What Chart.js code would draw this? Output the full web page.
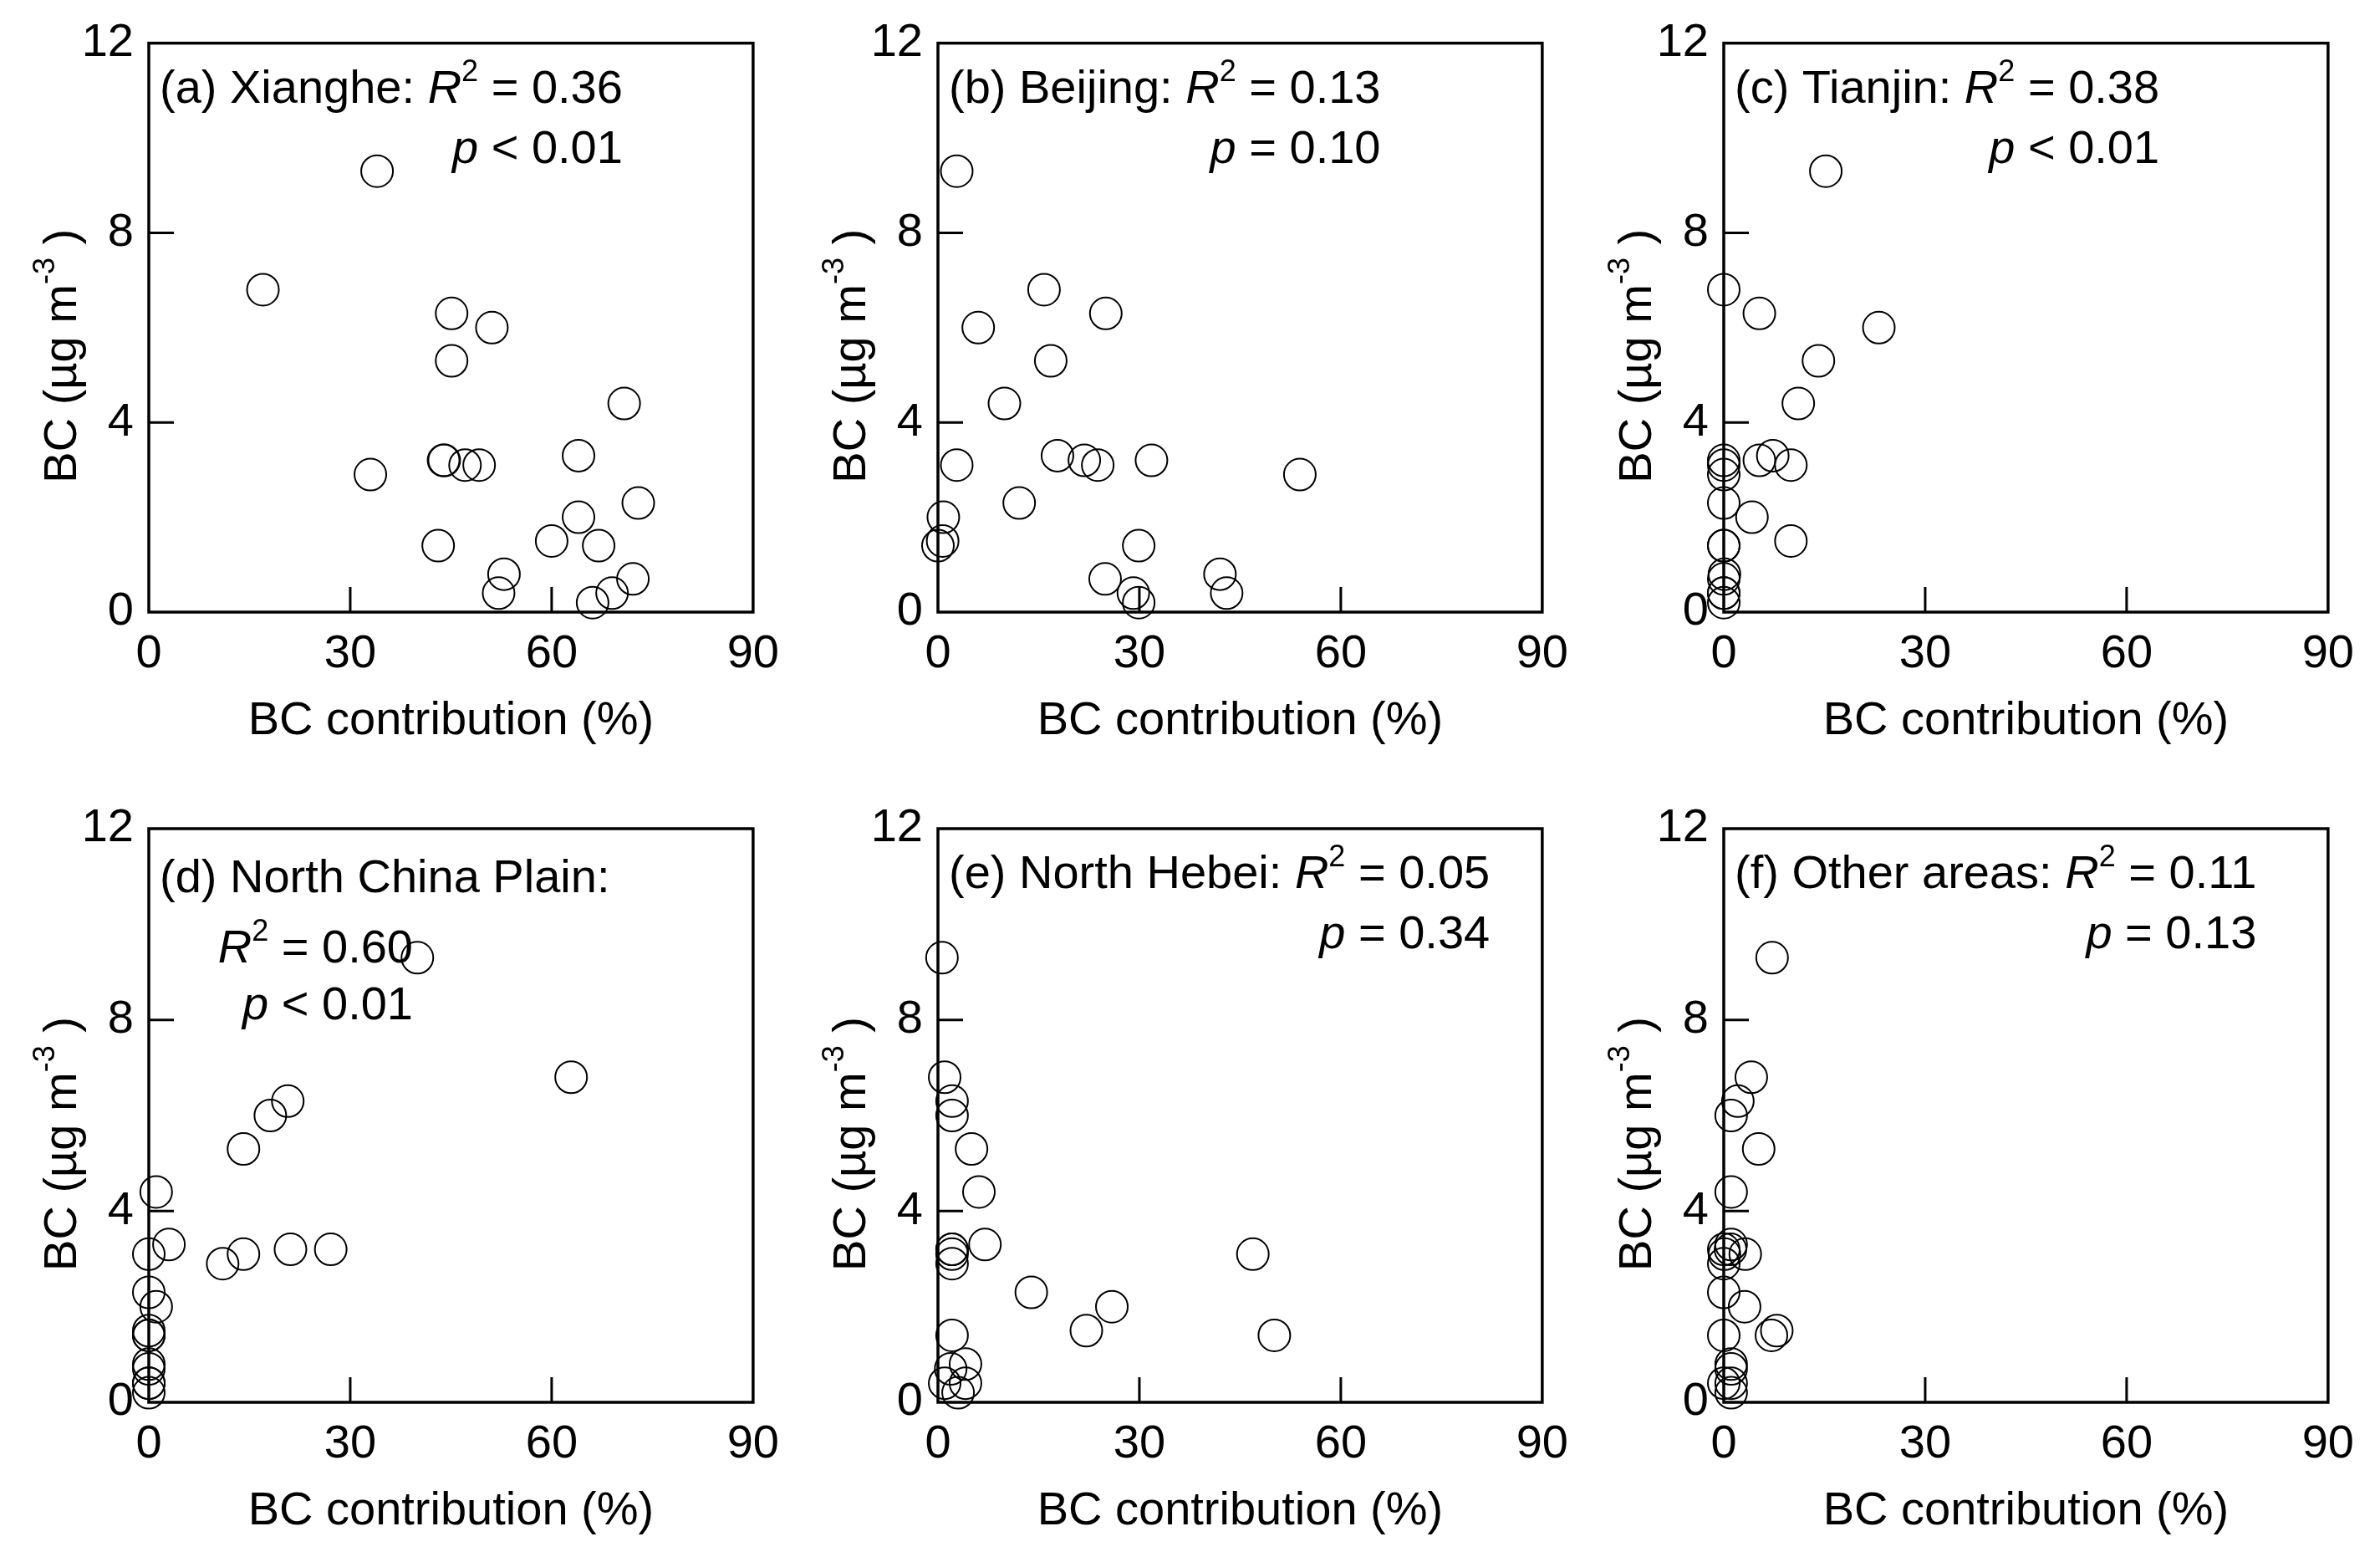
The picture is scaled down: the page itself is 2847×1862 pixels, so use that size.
<!DOCTYPE html>
<html>
<head>
<meta charset="utf-8">
<title>BC vs source contribution</title>
<script src="https://cdn.jsdelivr.net/npm/chart.js@4.4.1/dist/chart.umd.min.js"></script>
<style>
  html, body { margin: 0; padding: 0; background: #fff; }
  #page { position: relative; width: 2847px; height: 1862px; overflow: hidden; }
  .cell { position: absolute; width: 949px; height: 931px; }
</style>
</head>
<body>
<div id="page"></div>
<script>
// BC concentration of each sample (ug m-3), same samples in every panel
const bcConc = [9.3, 6.8, 6.3, 6.0, 5.3, 4.4, 3.3, 3.2, 3.2, 3.1, 3.1, 2.9, 2.3, 2.0, 1.5, 1.4, 1.4, 0.8, 0.7, 0.4, 0.4, 0.2];

// contribution of each source region to BC (%), per sample
const xiangheContrib    = [34.0, 17.0, 45.1, 51.1, 45.1, 70.8, 64.0, 43.9, 44.0, 47.1, 49.2, 33.0, 72.9, 64.0, 60.0, 43.1, 67.0, 52.9, 72.1, 52.1, 69.0, 66.1];
const beijingContrib    = [2.8, 15.8, 25.0, 6.0, 16.8, 9.9, 17.8, 21.8, 31.8, 2.8, 23.8, 53.9, 12.1, 0.8, 0.7, 0.0, 29.9, 42.0, 24.9, 43.0, 29.1, 29.9];
const tianjinContrib    = [15.2, 0.0, 5.3, 23.1, 14.1, 11.1, 7.3, 5.3, 0.0, 0.0, 10.0, 0.0, 0.0, 4.2, 10.0, 0.0, 0.0, 0.1, 0.0, 0.0, 0.0, 0.0];
const ncpContrib        = [40.0, 62.9, 20.7, 18.1, 14.1, 1.1, 3.0, 27.1, 21.1, 0.0, 14.1, 11.0, 0.0, 1.1, 0.0, 0.0, 0.0, 0.0, 0.0, 0.0, 0.0, 0.0];
const northHebeiContrib = [0.6, 1.0, 2.1, 2.1, 5.0, 6.1, 7.0, 2.1, 2.1, 46.9, 2.1, 2.1, 13.9, 25.9, 22.1, 50.1, 2.1, 4.1, 1.9, 4.1, 1.0, 3.0];
const otherContrib      = [7.2, 4.1, 2.1, 1.1, 5.2, 1.1, 1.1, 0.0, 1.0, 3.2, 0.1, 0.0, 0.0, 3.1, 7.9, 7.1, 0.0, 1.1, 1.1, 1.1, 0.0, 1.1];

const xTicks = [0, 30, 60, 90];
const yTicks = [0, 4, 8, 12];

const panelNames = ["(a) Xianghe:", "(b) Beijing:", "(c) Tianjin:", "(d) North China Plain:", "(e) North Hebei:", "(f) Other areas:"];
const r2Values = ["0.36", "0.13", "0.38", "0.60", "0.05", "0.11"];
const pValues = ["< 0.01", "= 0.10", "< 0.01", "< 0.01", "= 0.34", "= 0.13"];
const contribs = [xiangheContrib, beijingContrib, tianjinContrib, ncpContrib, northHebeiContrib, otherContrib];

const FONT = '"Liberation Sans", Arial, Helvetica, sans-serif';
const SIZE = 56;
const SUP = 36;

// layout (page pixels)
const colLeft = [0, 944, 1884];
const rowTop = [0, 931];
const rows = [
  { padTop: 46, axisH: 199, titlePad: 35 },
  { padTop: 60, axisH: 185, titlePad: 21 }
];

function fontStr(italic, size) {
  return (italic ? "italic " : "") + size + "px " + FONT;
}

// draw a list of text runs (plain / italic / superscript) on one baseline
function drawRuns(ctx, runs, x, y, align) {
  let total = 0;
  runs.forEach(r => {
    ctx.font = fontStr(r.italic, r.sup ? SUP : SIZE);
    r.w = ctx.measureText(r.text).width;
    total += r.w;
  });
  let cx = align === "right" ? x - total : align === "center" ? x - total / 2 : x;
  ctx.textAlign = "left";
  ctx.textBaseline = "alphabetic";
  runs.forEach(r => {
    ctx.font = fontStr(r.italic, r.sup ? SUP : SIZE);
    ctx.fillText(r.text, cx, r.sup ? y - 26 : y);
    cx += r.w;
  });
  return cx;
}

function panelPlugin(i) {
  return {
    id: "panel" + i,
    afterDraw(chart) {
      const { ctx, chartArea: a, scales: { x, y } } = chart;
      ctx.save();
      ctx.strokeStyle = "#000";
      ctx.fillStyle = "#000";

      // frame
      ctx.lineWidth = 3.5;
      ctx.strokeRect(a.left, a.top, a.right - a.left, a.bottom - a.top);

      // inward ticks
      ctx.lineWidth = 3;
      ctx.beginPath();
      xTicks.slice(1, -1).forEach(v => {
        const px = x.getPixelForValue(v);
        ctx.moveTo(px, a.bottom);
        ctx.lineTo(px, a.bottom - 30);
      });
      yTicks.slice(1, -1).forEach(v => {
        const py = y.getPixelForValue(v);
        ctx.moveTo(a.left, py);
        ctx.lineTo(a.left + 30, py);
      });
      ctx.stroke();

      // y axis title with superscript
      ctx.save();
      ctx.translate(a.left - 87, (a.top + a.bottom) / 2 + 34);
      ctx.rotate(-Math.PI / 2);
      drawRuns(ctx, [{ text: "BC (µg m" }, { text: "-3", sup: true }, { text: " )" }], 0, 0, "center");
      ctx.restore();

      // annotation
      const lx = a.left + 13;
      if (i === 3) {
        drawRuns(ctx, [{ text: panelNames[i] }], lx, a.top + 76, "left");
        const rx = a.left + 316;
        drawRuns(ctx, [{ text: "R", italic: true }, { text: "2", sup: true }, { text: " = " + r2Values[i] }], rx, a.top + 160, "right");
        drawRuns(ctx, [{ text: "p", italic: true }, { text: " " + pValues[i] }], rx, a.top + 228, "right");
      } else {
        const end = drawRuns(ctx, [{ text: panelNames[i] + " " }, { text: "R", italic: true }, { text: "2", sup: true }, { text: " = " + r2Values[i] }], lx, a.top + 71, "left");
        drawRuns(ctx, [{ text: "p", italic: true }, { text: " " + pValues[i] }], end, a.top + 143, "right");
      }
      ctx.restore();
    }
  };
}

const page = document.getElementById("page");

contribs.forEach((contrib, i) => {
  const row = rows[Math.floor(i / 3)];
  const div = document.createElement("div");
  div.className = "cell";
  div.style.left = colLeft[i % 3] + "px";
  div.style.top = rowTop[Math.floor(i / 3)] + "px";
  const canvas = document.createElement("canvas");
  div.appendChild(canvas);
  page.appendChild(div);

  const points = contrib.map((c, k) => ({ x: c, y: bcConc[k] }));

  new Chart(canvas, {
    type: "scatter",
    data: {
      datasets: [{
        data: points,
        pointStyle: "circle",
        pointRadius: 19,
        pointHoverRadius: 19,
        borderColor: "#000",
        borderWidth: 2,
        backgroundColor: "rgba(0,0,0,0)",
        clip: false
      }]
    },
    options: {
      responsive: true,
      maintainAspectRatio: false,
      animation: false,
      events: [],
      layout: { padding: { top: row.padTop, right: 39, left: 0, bottom: 0 } },
      plugins: {
        legend: { display: false },
        tooltip: { enabled: false }
      },
      scales: {
        x: {
          type: "linear",
          min: 0,
          max: 90,
          afterBuildTicks: s => { s.ticks = xTicks.map(v => ({ value: v })); },
          afterFit: s => { s.height = row.axisH; },
          grid: { display: false, drawTicks: false },
          border: { display: false },
          ticks: { padding: 17, color: "#000", font: { family: FONT, size: SIZE }, maxRotation: 0 },
          title: {
            display: true,
            text: "BC contribution (%)",
            color: "#000",
            font: { family: FONT, size: SIZE },
            padding: { top: 0, bottom: row.titlePad }
          }
        },
        y: {
          type: "linear",
          min: 0,
          max: 12,
          afterBuildTicks: s => { s.ticks = yTicks.map(v => ({ value: v })); },
          afterFit: s => { s.width = 178; },
          grid: { display: false, drawTicks: false },
          border: { display: false },
          ticks: { padding: 18, color: "#000", font: { family: FONT, size: SIZE } }
        }
      }
    },
    plugins: [panelPlugin(i)]
  });
});
</script>
</body>
</html>
